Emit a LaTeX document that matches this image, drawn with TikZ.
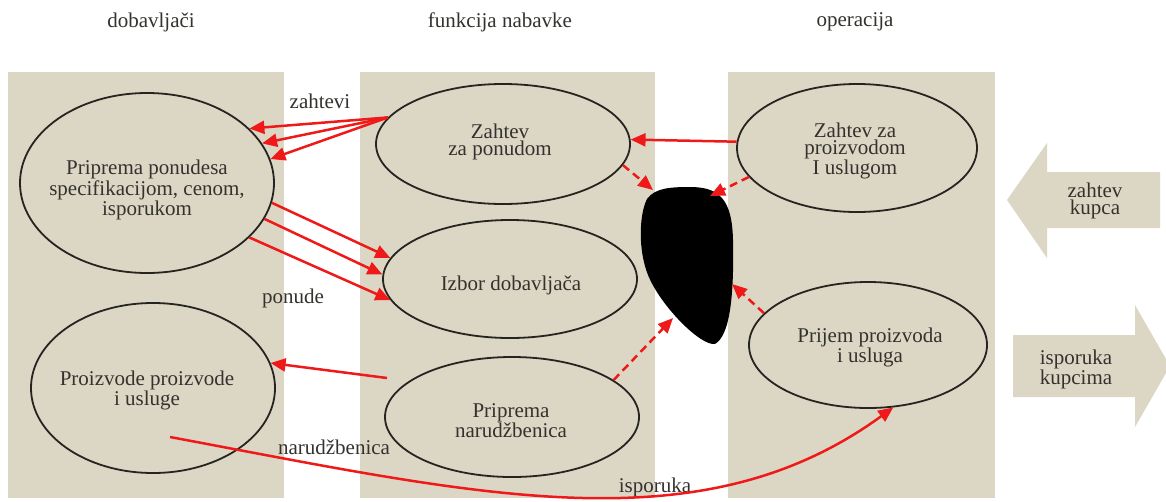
\documentclass[tikz,border=0pt]{standalone}
\usepackage{fontspec}
\setmainfont{Liberation Serif}
\usetikzlibrary{shapes.geometric, arrows.meta}
\definecolor{panel}{RGB}{220,214,196}
\definecolor{ink}{RGB}{52,50,46}
\definecolor{rim}{RGB}{38,36,32}
\definecolor{flow}{RGB}{240,25,25}
\begin{document}
\begin{tikzpicture}[x=1pt,y=-1pt,
  oval/.style={ellipse, draw=rim, line width=1.8pt, inner sep=0pt},
  txt/.style={text=ink, font=\fontsize{21}{17}\selectfont, align=center, inner sep=0pt},
  flowline/.style={draw=flow, line width=2.5pt, -{Triangle[length=15pt,width=13pt]}},
  dashflow/.style={flowline, dash pattern=on 8pt off 5pt},
]
\useasboundingbox (0,0) rectangle (1166,501);
\fill[white] (0,0) rectangle (1166,501);

% column panels
\fill[panel] (8,72) rectangle (284,498);
\fill[panel] (360,72) rectangle (655,498);
\fill[panel] (728,72) rectangle (995,498);

% column headings
\node[txt] (h1) at (151,22) {dobavljači};
\node[txt] (h2) at (500,22) {funkcija nabavke};
\node[txt] (h3) at (855,22) {operacija};

% customer block arrows
\fill[panel] (1007,200) -- (1047,143) -- (1047,172) -- (1160,172) -- (1160,228)
  -- (1047,228) -- (1047,258) -- cycle;
\fill[panel] (1013,335) -- (1135,335) -- (1135,305) -- (1170,366) -- (1135,427)
  -- (1135,397) -- (1013,397) -- cycle;
\node[txt] (kz) at (1095,201) {zahtev\\kupca};
\node[txt] (ki) at (1076,369) {isporuka\\kupcima};

% process ellipses
\node[oval, minimum width=254pt, minimum height=180pt] (e1) at (147,183) {};
\node[oval, minimum width=244pt, minimum height=170pt] (e2) at (153,388) {};
\node[oval, minimum width=254pt, minimum height=120pt] (e3) at (503,144) {};
\node[oval, minimum width=254pt, minimum height=118pt] (e4) at (510,279) {};
\node[oval, minimum width=254pt, minimum height=120pt] (e5) at (512,417) {};
\node[oval, minimum width=240pt, minimum height=128pt] (e6) at (857,148) {};
\node[oval, minimum width=238pt, minimum height=126pt] (e7) at (868,345) {};

\node[txt] (t1) at (147,190) {Priprema ponudesa\\specifikacijom, cenom,\\isporukom};
\node[txt] (t2) at (147,390) {Proizvode proizvode\\i usluge};
\node[txt] (t3) at (500,142) {Zahtev\\za ponudom};
\node[txt] (t4) at (511,285) {Izbor dobavljača};
\node[txt] (t5) at (511,421) {Priprema\\narudžbenica};
\node[txt] (t6) at (855,151) {Zahtev za\\proizvodom\\I uslugom};
\node[txt] (t7) at (870,347) {Prijem proizvoda\\i usluga};

% central black blob
\fill[black] (690,187) .. controls (720,187) and (732,200) .. (733,240)
  .. controls (734,290) and (731,335) .. (715,344)
  .. controls (700,346) and (660,305) .. (648,275)
  .. controls (638,250) and (639,215) .. (647,199)
  .. controls (655,188) and (670,187) .. (690,187) -- cycle;
\coordinate (b1) at (653,190);
\coordinate (b2) at (710,196);
\coordinate (b3) at (673,318);
\coordinate (b4) at (732,284);

% flow labels
\node[txt] (lz) at (320,101) {zahtevi};
\node[txt] (lp) at (293,298) {ponude};
\node[txt] (ln) at (334,447) {narudžbenica};
\node[txt] (li) at (655,487) {isporuka};

% requests to suppliers
\draw[flowline] (e3.167) -- (e1.28);
\draw[flowline] (e3.167) -- (e1.19.6);
\draw[flowline] (e3.167) -- (e1.11.3);

% offers
\draw[flowline] (e1.-9.4) -- (e4.170.4);
\draw[flowline] (e1.-17.8) -- (e4.178);
\draw[flowline] (e1.-28) -- (e4.-170);

% purchase order
\coordinate (o1) at (387,378);
\draw[flowline] (o1) -- (e2.12.7);

% operations request
\draw[flowline] (e6.177.5) -- (e3.2);

% dashed flows into the blob
\draw[dashflow] (e3.-10) -- (b1);
\draw[dashflow] (e6.-165.6) -- (b2);
\draw[dashflow] (e5.20) -- (b3);
\draw[dashflow] (e7.163.8) -- (b4);

% delivery
\coordinate (d0) at (170,437);
\draw[flowline] (d0) .. controls (480,495) and (700,548) .. (e7.-68.4);
\end{tikzpicture}
\end{document}
